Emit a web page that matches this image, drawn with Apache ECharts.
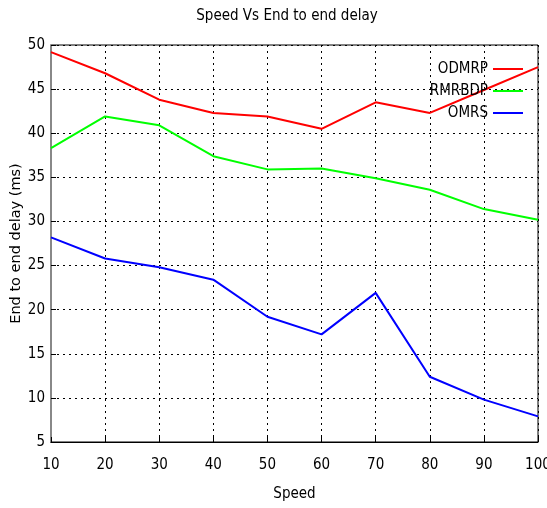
<!DOCTYPE html>
<html>
<head>
<meta charset="utf-8">
<script src="https://cdn.jsdelivr.net/npm/echarts@6/dist/echarts.min.js"></script>
<style>html,body{margin:0;padding:0;background:#fff;}#c{width:547px;height:508px;}</style>
</head>
<body>
<div id="c"></div>
<script>
var speeds = [10, 20, 30, 40, 50, 60, 70, 80, 90, 100];
var odmrp  = [49.2, 46.8, 43.8, 42.3, 41.9, 40.5, 43.5, 42.3, 44.9, 47.5];
var rmrbdp = [38.3, 41.9, 40.9, 37.4, 35.9, 36.0, 34.9, 33.6, 31.4, 30.2];
var omrs   = [28.2, 25.8, 24.8, 23.4, 19.2, 17.2, 21.9, 12.4, 9.8, 7.9];
var seriesNames = ['ODMRP', 'RMRBDP', 'OMRS'];
var seriesColors = ['#ff0000', '#00ff00', '#0000ff'];

function pairs(ys) { return speeds.map(function (x, i) { return [x, ys[i]]; }); }
var allData = [odmrp, rmrbdp, omrs];

var numFont = "'Liberation Sans Narrow','DejaVu Sans Condensed',sans-serif";
var chart = echarts.init(document.getElementById('c'));
chart.setOption({
  animation: false,
  backgroundColor: '#fff',
  title: {
    text: 'Speed Vs End to end delay',
    left: 282, top: 4, textAlign: 'center',
    textStyle: { fontFamily: numFont, fontSize: 15, fontWeight: 'normal', color: '#000' }
  },
  legend: {
    orient: 'vertical', align: 'right', right: 19, top: 56,
    itemWidth: 30, itemHeight: 2, itemGap: 6, icon: 'rect',
    textStyle: { fontFamily: numFont, fontSize: 15, color: '#000', lineHeight: 16 },
    data: seriesNames
  },
  grid: { left: 51, right: 9, top: 45, bottom: 66, containLabel: false, outerBoundsMode: 'none',
          show: true, borderColor: '#000', borderWidth: 1 },
  xAxis: {
    type: 'value', min: 10, max: 100, interval: 10,
    name: 'Speed', nameLocation: 'middle', nameGap: 45, nameMoveOverlap: false,
    nameTextStyle: { fontFamily: numFont, fontSize: 15, color: '#000' },
    axisLine: { show: true, lineStyle: { color: '#000', width: 1 } },
    axisTick: { show: true, inside: true, length: 5, lineStyle: { color: '#000' } },
    axisLabel: { margin: 16, fontFamily: numFont, fontSize: 15, color: '#000' },
    splitLine: { show: true, lineStyle: { color: '#000', type: [2, 4], width: 1 } }
  },
  yAxis: {
    type: 'value', min: 5, max: 50, interval: 5,
    name: 'End to end delay (ms)', nameLocation: 'middle', nameGap: 27, nameRotate: 90,
    nameMoveOverlap: false,
    nameTextStyle: { fontFamily: "'DejaVu Sans',Verdana,sans-serif", fontSize: 14.5, color: '#000' },
    axisLine: { show: true, lineStyle: { color: '#888', width: 2 } },
    axisTick: { show: true, inside: true, length: 5, lineStyle: { color: '#000' } },
    axisLabel: { margin: 6, fontFamily: numFont, fontSize: 15, color: '#000' },
    splitLine: { show: true, lineStyle: { color: '#000', type: [2, 4], width: 1 } }
  },
  series: seriesNames.map(function (n, i) {
    return {
      name: n, type: 'line', data: pairs(allData[i]), showSymbol: false, symbol: 'none',
      lineStyle: { color: seriesColors[i], width: 2 }, itemStyle: { color: seriesColors[i] }
    };
  })
});
</script>
</body>
</html>
